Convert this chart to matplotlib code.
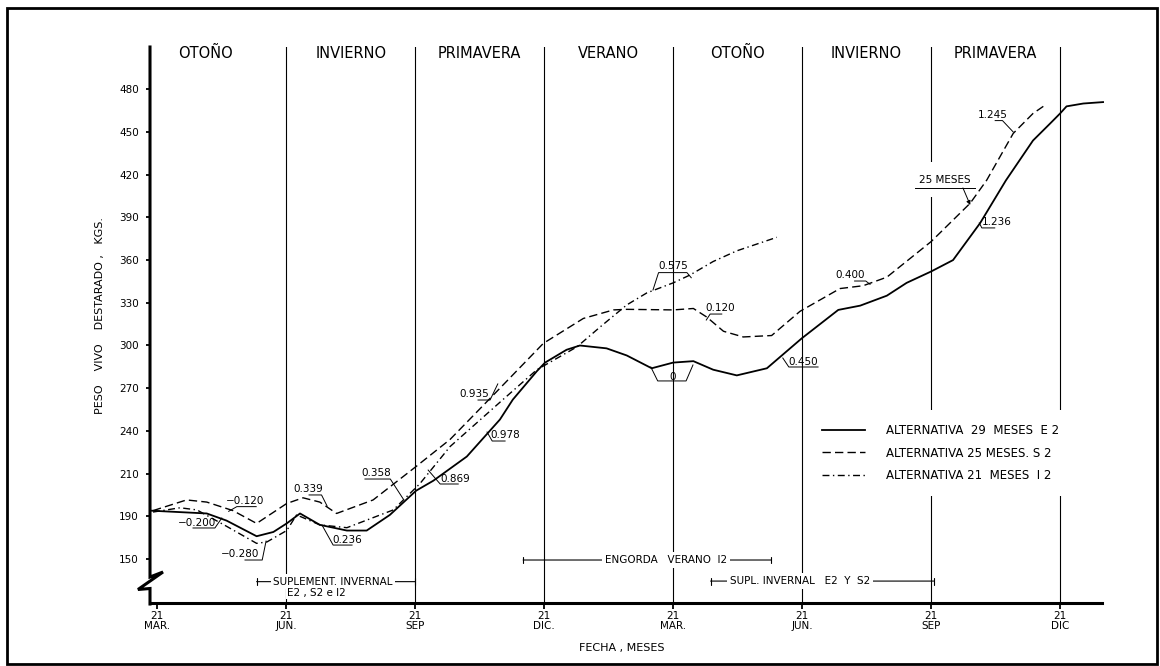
import matplotlib
matplotlib.use('Agg')
import matplotlib.pyplot as plt
import matplotlib.transforms as mtransforms
from matplotlib.lines import Line2D
from matplotlib.patches import Rectangle

plt.rcParams['font.family'] = ['DejaVu Sans']
plt.rcParams['lines.scale_dashes'] = False

# ---------------- data ----------------
seasons = ["OTOÑO", "INVIERNO", "PRIMAVERA", "VERANO", "OTOÑO", "INVIERNO", "PRIMAVERA"]
season_label_x = [1.13, 4.5, 7.5, 10.5, 13.5, 16.5, 19.5]
season_bounds = [3, 6, 9, 12, 15, 18, 21]

xtick_pos = [0, 3, 6, 9, 12, 15, 18, 21]
xtick_labels = ["21\nMAR.", "21\nJUN.", "21\nSEP", "21\nDIC.", "21\nMAR.", "21\nJUN.", "21\nSEP", "21\nDIC"]
ytick_pos = [150, 180, 210, 240, 270, 300, 330, 360, 390, 420, 450, 480]
ytick_labels = ["150", "190", "210", "240", "270", "300", "330", "360", "390", "420", "450", "480"]

# months since 21 March
e2_x = [-0.17, 1.15, 1.61, 2.31, 2.70, 3.01, 3.32, 3.78, 4.41, 4.87, 5.41, 6.02, 6.42, 7.20, 7.97,
        8.27, 8.83, 9.02, 9.52, 9.83, 10.45, 10.92, 11.50, 12.0, 12.47, 12.93, 13.48, 14.18, 14.99,
        15.84, 16.35, 16.97, 17.43, 18.0, 18.51, 19.14, 19.74, 20.37, 20.77, 21.0, 21.15, 21.54, 22.0]
e2_y = [184, 182, 177, 166, 169, 175, 182, 174, 170, 170, 181, 198, 205, 222, 248,
        262, 282, 288, 297, 300, 298, 293, 284, 288, 289, 283, 279, 284, 305,
        325, 328, 335, 344, 352, 360, 386, 416, 444, 456, 463, 468, 470, 471]

s2_x = [-0.1, 0.68, 1.15, 1.76, 2.31, 3.01, 3.39, 3.78, 4.17, 5.02, 6.02, 6.81, 7.81, 8.98, 9.91,
        10.61, 10.92, 12.0, 12.47, 12.78, 13.17, 13.63, 14.29, 14.95, 15.88, 16.42, 16.97, 18.0,
        18.91, 19.29, 19.91, 20.37, 20.61]
s2_y = [184, 191.5, 190, 184, 175, 189, 193, 190, 182, 191.5, 215, 234, 265, 301.5, 319,
        325, 325.4, 325, 326, 320, 310, 306, 307, 324, 340, 342, 348, 373,
        400, 416, 449, 463, 468]

i2_x = [-0.1, 0.53, 0.92, 1.61, 2.31, 2.55, 3.01, 3.24, 3.78, 4.41, 5.49, 6.11, 6.81, 8.04, 8.83,
        9.76, 10.30, 10.92, 11.39, 12.0, 12.39, 12.93, 13.48, 14.41]
i2_y = [183, 186, 184.5, 173, 161, 162, 170, 181, 174, 172, 184.5, 203, 229, 262, 283,
        299, 313, 328.5, 337, 344, 349.5, 359, 366.5, 376]

legend_labels = ["ALTERNATIVA  29  MESES  E 2", "ALTERNATIVA 25 MESES. S 2", "ALTERNATIVA 21  MESES  I 2"]

# rate annotations: text, text position, leader polyline
annotations = [
    ("\u22120.200", (0.92, 175.5), [(0.83, 171.8), (1.34, 171.8), (1.50, 178.8)]),
    ("\u22120.120", (2.05, 190.8), [(2.30, 186.8), (1.85, 186.8), (1.66, 183.5)]),
    ("\u22120.280", (1.92, 153.5), [(2.04, 149.3), (2.44, 149.3), (2.53, 162.6)]),
    ("0.339", (3.51, 199.0), [(3.53, 195.0), (3.82, 195.0), (3.95, 187.2)]),
    ("0.236", (4.41, 163.3), [(4.53, 159.8), (4.09, 159.8), (3.83, 173.9)]),
    ("0.358", (5.10, 210.2), [(4.83, 206.2), (5.42, 206.2), (5.72, 192.2)]),
    ("0.869", (6.92, 206.2), [(7.00, 202.7), (6.58, 202.7), (6.30, 212.5)]),
    ("0.978", (8.09, 237.1), [(8.09, 232.9), (7.79, 232.9), (7.67, 239.2)]),
    ("0.935", (7.37, 265.9), [(7.46, 261.7), (7.74, 261.7), (7.92, 273.0)]),
    ("0.575", (11.99, 355.9), [(11.53, 339.0), (11.66, 351.2), (12.32, 351.2), (12.42, 347.6)]),
    ("0.120", (13.09, 326.1), [(13.13, 322.1), (12.86, 322.1), (12.77, 317.9)]),
    ("0", (11.99, 278.1), [(11.48, 284.9), (11.64, 275.1), (12.30, 275.1), (12.46, 286.3)]),
    ("0.450", (15.02, 288.6), [(15.37, 284.9), (14.69, 284.9), (14.55, 291.2)]),
    ("0.400", (16.11, 349.5), [(16.22, 345.3), (16.48, 345.3), (16.58, 343.0)]),
    ("1.236", (19.53, 387.0), [(19.48, 382.6), (19.18, 382.6), (19.12, 386.1)]),
    ("1.245", (19.44, 462.0), [(19.49, 458.0), (19.66, 458.0), (19.91, 450.0)]),
]

brackets = [
    ("SUPLEMENT. INVERNAL", 2.31, 6.0, 134.1, 4.09),
    ("ENGORDA   VERANO  I2", 8.51, 14.28, 149.3, 11.83),
    ("SUPL. INVERNAL   E2  Y  S2", 12.87, 18.06, 134.5, 14.95),
]

# ---------------- figure ----------------
W, H = 1160, 666
fig = plt.figure(figsize=(W / 100, H / 100), dpi=100)
ax = fig.add_axes([150 / W, 63 / H, 952 / W, 556 / H])
pix = mtransforms.Affine2D().scale(1 / W, -1 / H).translate(0, 1) + fig.transFigure

ax.set_xlim(-0.17, 21.975)
ax.set_ylim(119.1, 509.7)

for s in ['top', 'right', 'left']:
    ax.spines[s].set_visible(False)
ax.spines['bottom'].set_linewidth(2.2)

ax.set_xticks(xtick_pos)
ax.set_xticklabels(xtick_labels, fontsize=7.5, linespacing=0.9)
ax.set_yticks(ytick_pos)
ax.set_yticklabels(ytick_labels, fontsize=7.5)
ax.tick_params(axis='x', direction='out', length=4, width=1.3, pad=2)
ax.tick_params(axis='y', direction='out', length=3, width=1.3, pad=5)

# broken y axis drawn as a polyline with the break sign
fig.add_artist(Line2D([150, 150, 163, 138, 150, 150], [47, 577, 572, 589.5, 588.5, 604],
                      transform=pix, color='black', lw=2.2, solid_joinstyle='miter'))

# season boundaries and labels
for b in season_bounds:
    ax.axvline(b, color='black', lw=0.8, zorder=1)
bt = mtransforms.blended_transform_factory(ax.transData, ax.transAxes)
for name, xl in zip(seasons, season_label_x):
    ax.text(xl, 0.989, name, transform=bt, ha='center', va='center', fontsize=10.5, zorder=6)

# curves
l1, = ax.plot(e2_x, e2_y, color='black', lw=1.3, ls='-', clip_on=False, zorder=3)
l2, = ax.plot(s2_x, s2_y, color='black', lw=1.0, ls=(0, (6, 3)), zorder=3)
l3, = ax.plot(i2_x, i2_y, color='black', lw=1.0, ls=(0, (5, 2.5, 1, 2.5)), zorder=3)

# annotations
for txt, (tx, ty), leader in annotations:
    ax.text(tx, ty, txt, ha='center', va='center', fontsize=7.5, zorder=5)
    ax.plot([p[0] for p in leader], [p[1] for p in leader], color='black', lw=0.7, zorder=4)

ax.text(18.32, 416.3, "25 MESES", ha='center', va='center', fontsize=7.5, zorder=2,
        bbox=dict(boxstyle='square,pad=1.2', fc='white', ec='none'))
ax.plot([17.63, 19.02], [410.7, 410.7], color='black', lw=0.7, zorder=6)
ax.annotate('', xy=(18.91, 398.7), xytext=(18.74, 410.7),
            arrowprops=dict(arrowstyle='-|>', lw=0.7, color='black', mutation_scale=6,
                            shrinkA=0, shrinkB=0), zorder=6)

# brackets
for txt, x0, x1, yb, xt in brackets:
    ax.annotate('', xy=(x1, yb), xytext=(x0, yb),
                arrowprops=dict(arrowstyle='|-|,widthA=0.25,widthB=0.25', lw=0.8, color='black',
                                shrinkA=0, shrinkB=0), zorder=4)
    ax.text(xt, yb, txt, ha='center', va='center', fontsize=7.5, zorder=6,
            bbox=dict(boxstyle='square,pad=0.25', fc='white', ec='none'))
ax.text(3.71, 126.3, "E2 , S2 e I2", ha='center', va='center', fontsize=7.5, zorder=6,
        bbox=dict(boxstyle='square,pad=0.1', fc='white', ec='none'))

# legend
leg = ax.legend([l1, l2, l3], legend_labels, loc='upper left',
                bbox_to_anchor=(808 / W, 1 - 410 / H), bbox_transform=fig.transFigure,
                frameon=True, fancybox=False, edgecolor='none', facecolor='white', framealpha=1,
                fontsize=8.5, handlelength=3.6, handletextpad=1.8, labelspacing=0.8,
                borderpad=1.2, borderaxespad=0)
leg.set_zorder(7)

# axis titles
fig.text(100 / W, 1 - 315 / H, "PESO    VIVO    DESTARADO ,   KGS.", rotation=90,
         ha='center', va='center', fontsize=8)
fig.text(622 / W, 1 - 648 / H, "FECHA , MESES", ha='center', va='center', fontsize=8)

# outer frame
fig.add_artist(Rectangle((7 / W, 2 / H), 1150 / W, 656 / H, transform=fig.transFigure,
                         fill=False, ec='black', lw=2))

fig.savefig('out.png', dpi=100)
